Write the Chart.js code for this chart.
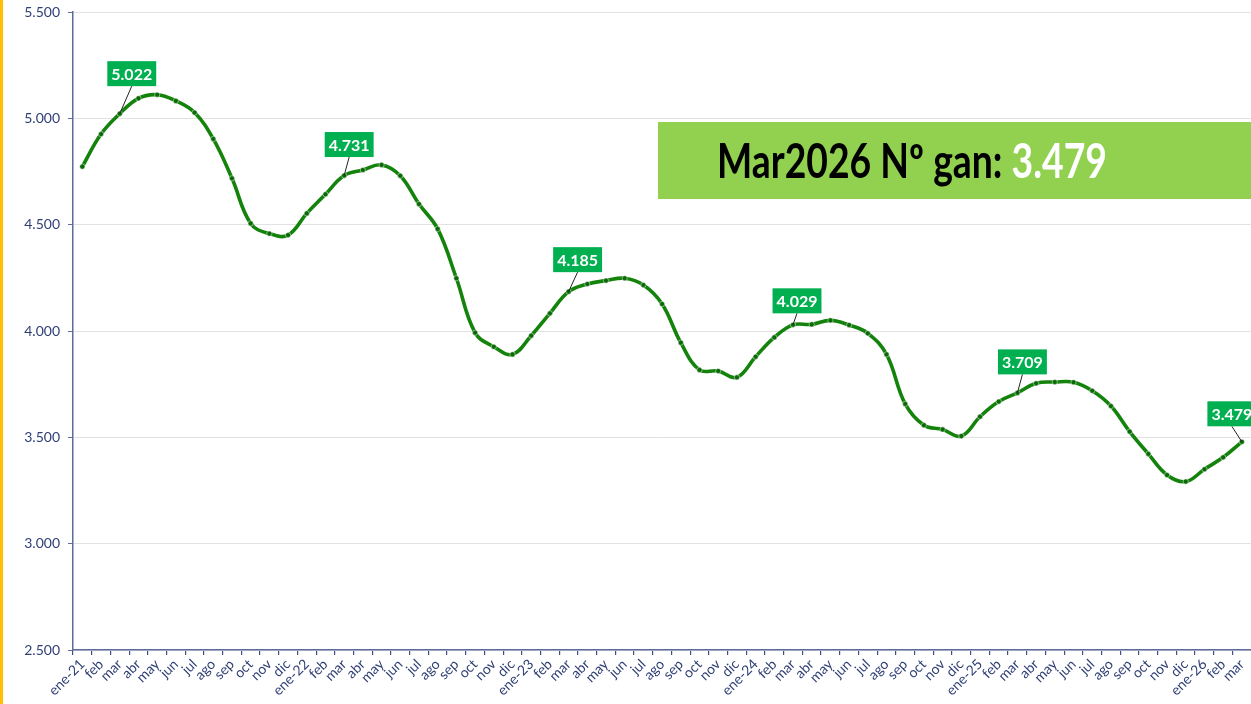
<!DOCTYPE html>
<html lang="es">
<head>
    <meta charset="UTF-8">
    <title>Nº ganaderías</title>
    <script src="https://cdn.jsdelivr.net/npm/chart.js"></script>
    <style>
        html, body { margin: 0; padding: 0; background: #fff; overflow: hidden; }
        .wrap { position: relative; width: 1251px; height: 704px; overflow: hidden; }
        .bar { position: absolute; left: 0; top: 0; width: 3px; height: 704px; background: #ffc000; z-index: 2; }
        canvas { position: absolute; left: 0; top: 0; }
    </style>
</head>
<body>
<div class="wrap">
    <div class="bar"></div>
    <canvas id="ganChart" width="1256" height="704"></canvas>
</div>

<script>
    // meses (ene-21 ... mar-26)
    const months = [
        'ene-21','feb','mar','abr','may','jun','jul','ago','sep','oct','nov','dic',
        'ene-22','feb','mar','abr','may','jun','jul','ago','sep','oct','nov','dic',
        'ene-23','feb','mar','abr','may','jun','jul','ago','sep','oct','nov','dic',
        'ene-24','feb','mar','abr','may','jun','jul','ago','sep','oct','nov','dic',
        'ene-25','feb','mar','abr','may','jun','jul','ago','sep','oct','nov','dic',
        'ene-26','feb','mar'
    ];

    // nº ganaderías por mes
    const values = [
        4773, 4926, 5022, 5094, 5111, 5082, 5027, 4903, 4718, 4506, 4458, 4451,
        4553, 4643, 4731, 4757, 4781, 4730, 4597, 4480, 4248, 3992, 3926, 3890,
        3978, 4083, 4185, 4221, 4237, 4248, 4216, 4127, 3945, 3817, 3812, 3782,
        3879, 3970, 4029, 4031, 4050, 4028, 3989, 3890, 3657, 3557, 3537, 3506,
        3597, 3668, 3709, 3754, 3760, 3759, 3719, 3647, 3527, 3422, 3323, 3292,
        3350, 3406, 3479
    ];

    const yTicks = [2500, 3000, 3500, 4000, 4500, 5000, 5500];

    const fmt = v => String(v).replace(/\B(?=(\d{3})+(?!\d))/g, '.');

    // etiquetas verdes en cada marzo
    const labelOffsets = [[12, -40], [5, -31], [9, -32], [4, -24], [5, -31], [-10, -28]];

    const marchLabels = {
        id: 'marchLabels',
        afterDatasetsDraw(chart) {
            const ctx = chart.ctx;
            const meta = chart.getDatasetMeta(0);
            let k = 0;
            ctx.save();
            ctx.font = 'bold 16px Lato';
            ctx.textAlign = 'center';
            ctx.textBaseline = 'middle';
            months.forEach((m, i) => {
                if (m !== 'mar') return;
                const p = meta.data[i];
                const off = labelOffsets[k++] || [5, -30];
                const cx = p.x + off[0], cy = p.y + off[1];
                const txt = fmt(values[i]);
                const w = ctx.measureText(txt).width + 8, h = 25;
                ctx.strokeStyle = '#222';
                ctx.lineWidth = 1;
                ctx.beginPath();
                ctx.moveTo(cx, cy + h / 2);
                ctx.lineTo(p.x, p.y);
                ctx.stroke();
                ctx.fillStyle = '#00b050';
                ctx.fillRect(cx - w / 2, cy - h / 2, w, h);
                ctx.fillStyle = '#fff';
                ctx.fillText(txt, cx, cy + 1);
            });
            ctx.restore();
        }
    };

    // recuadro resumen
    const summaryBox = {
        id: 'summaryBox',
        afterDraw(chart) {
            const ctx = chart.ctx;
            const last = values[values.length - 1];
            const a = 'Mar2026 Nº gan: ', b = fmt(last);
            ctx.save();
            ctx.fillStyle = '#92d050';
            ctx.fillRect(658, 122, 620, 77);
            ctx.font = 'bold 47px Lato';
            const wa = ctx.measureText(a).width, wb = ctx.measureText(b).width;
            const sx = 390 / (wa + wb);
            ctx.translate(717, 178);
            ctx.scale(sx, 1);
            ctx.textBaseline = 'alphabetic';
            ctx.fillStyle = '#000';
            ctx.fillText(a, 0, 0);
            ctx.fillStyle = '#fff';
            ctx.fillText(b, wa, 0);
            ctx.restore();
        }
    };

    const axisColor = '#5d6c9c';

    new Chart(document.getElementById('ganChart'), {
        type: 'line',
        data: {
            labels: months,
            datasets: [{
                data: values,
                borderColor: '#14830c',
                borderWidth: 3.6,
                tension: 0.4,
                fill: false,
                pointRadius: 2.6,
                pointBackgroundColor: '#0b6a07',
                pointBorderColor: 'rgba(255,255,255,0.6)',
                pointBorderWidth: 0.8
            }]
        },
        options: {
            responsive: false,
            animation: false,
            layout: { padding: { top: 0, right: 2, left: 0, bottom: 0 } },
            plugins: { legend: { display: false }, tooltip: { enabled: false } },
            scales: {
                x: {
                    offset: true,
                    grid: { offset: true, drawOnChartArea: false, tickLength: 5, color: '#3f4f85', lineWidth: 1.2 },
                    border: { color: axisColor, width: 1.5 },
                    ticks: {
                        autoSkip: false, maxRotation: 45, minRotation: 45, padding: 1,
                        color: '#2f3f75', font: { family: 'Lato', size: 14 }
                    },
                    afterFit(s) { s.height = 54; }
                },
                y: {
                    min: 2500, max: 5500,
                    afterBuildTicks(s) { s.ticks = yTicks.map(v => ({ value: v })); },
                    grid: { color: '#e2e2e2', tickColor: axisColor, tickLength: 5 },
                    border: { color: axisColor, width: 1.5 },
                    ticks: {
                        padding: 8, color: '#2f3f75', font: { family: 'Lato', size: 14 },
                        callback: v => fmt(v)
                    },
                    afterFit(s) { s.width = 73; s.paddingTop = 12; s.paddingBottom = 0; }
                }
            }
        },
        plugins: [marchLabels, summaryBox]
    });
</script>
</body>
</html>
